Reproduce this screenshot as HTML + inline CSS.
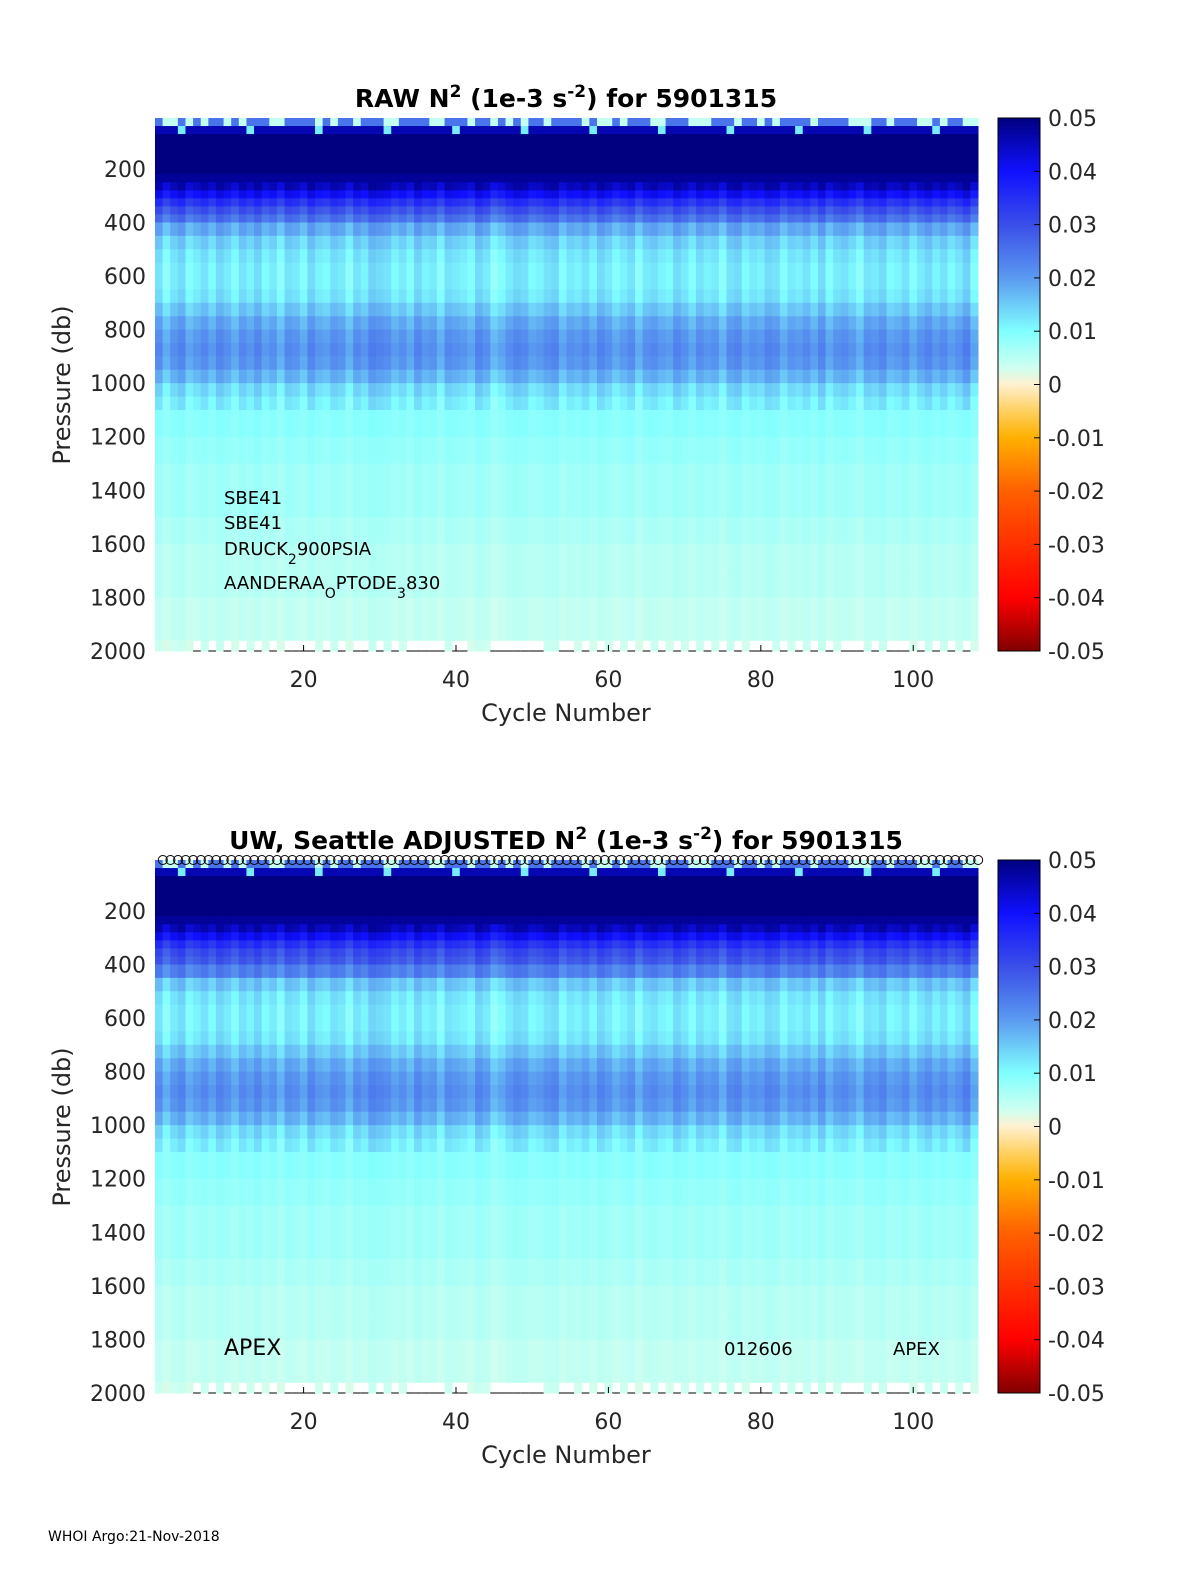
<!DOCTYPE html>
<html><head><meta charset="utf-8"><style>
body{margin:0;background:#fff;}
svg{display:block;font-family:"DejaVu Sans","Liberation Sans",sans-serif;}
</style></head><body>
<svg id="fig" width="1200" height="1575" viewBox="0 0 1200 1575" xmlns="http://www.w3.org/2000/svg">
<defs>
<linearGradient id="cbg" x1="0" y1="0" x2="0" y2="1">
<stop offset="0" stop-color="#000080"/><stop offset="0.1" stop-color="#1010ff"/>
<stop offset="0.2" stop-color="#3a4ee8"/><stop offset="0.3" stop-color="#5a9af0"/>
<stop offset="0.4" stop-color="#80ffff"/><stop offset="0.47" stop-color="#d0fff0"/>
<stop offset="0.5" stop-color="#fff0d0"/><stop offset="0.55" stop-color="#ffd060"/>
<stop offset="0.6" stop-color="#ffb000"/><stop offset="0.7" stop-color="#ff6000"/>
<stop offset="0.8" stop-color="#ff3000"/><stop offset="0.9" stop-color="#ff0000"/>
<stop offset="1" stop-color="#800000"/></linearGradient>
</defs>
<g id="p1"></g>
<g id="p2" transform="translate(0,742)"></g>
<text x="48" y="1541" font-size="14">WHOI Argo:21-Nov-2018</text>
</svg>
<script>
const nCycles = 108;
const levelTops = [10,40,70,100,130,160,190,220,250,280,310,340,370,400,450,500,550,600,650,700,750,800,850,900,950,1000,1050,1100,1200,1300,1400,1500,1600,1700,1800,1900,1960];
const levelBottoms = [40,70,100,130,160,190,220,250,280,310,340,370,400,450,500,550,600,650,700,750,800,850,900,950,1000,1050,1100,1200,1300,1400,1500,1600,1700,1800,1900,1960,2000];
const rawValues = [0.025,0.046,0.05,0.05,0.05,0.05,0.05,0.048,0.045,0.04,0.034,0.029,0.025,0.018,0.014,0.012,0.011,0.011,0.012,0.015,0.018,0.02,0.021,0.02,0.017,0.013,0.011,0.009,0.008,0.007,0.007,0.006,0.005,0.005,0.004,0.004,0.003];
const adjValues = [0.025,0.046,0.05,0.05,0.05,0.05,0.05,0.048,0.045,0.04,0.034,0.03,0.028,0.023,0.015,0.012,0.011,0.011,0.012,0.015,0.018,0.02,0.021,0.02,0.017,0.013,0.011,0.009,0.008,0.007,0.007,0.006,0.005,0.005,0.004,0.004,0.003];
const cycleOffsets = [0.002,-0.003,0.001,0.003,-0.002,0,0.002,-0.001,0.003,0.001,-0.002,0.002,0,0.003,-0.001,0.001,-0.003,0.002,0.001,-0.002,0.003,0,-0.001,0.002,0.001,-0.003,0.002,0,0.004,0.003,0.002,-0.001,0.001,-0.002,0.003,0,0.001,-0.003,0.002,0.001,0,-0.002,0.003,0.001,-0.004,-0.002,0.001,0.003,0.002,-0.001,0,0.002,0.003,-0.002,0.001,0,0.002,-0.001,0.003,0.001,-0.002,0,0.002,-0.003,0.001,0.002,0,-0.001,0.003,0.001,-0.002,0.002,0,0.001,-0.003,0.002,0.003,-0.001,0.001,0,0.003,0.002,-0.002,0.001,0,0.002,-0.001,0.003,-0.002,0.001,0.002,0,-0.003,0.002,0.001,0.003,-0.001,0,0.002,-0.002,0.001,0.003,0,0.002,-0.001,0.001,0.004,-0.002];
const missingBottom = [6,8,10,12,14,16,18,19,20,21,23,25,27,28,30,32,34,35,36,37,38,40,41,45,46,47,48,49,50,51,54,55,57,59,61,63,65,67,69,71,73,75,77,79,80,81,83,85,87,89,91,92,93,95,97,98,99,101,103,105,107];
const xTicks = [20,40,60,80,100];
const yTicks = [200,400,600,800,1000,1200,1400,1600,1800,2000];
const cbTicks = ["0.05","0.04","0.03","0.02","0.01","0","-0.01","-0.02","-0.03","-0.04","-0.05"];

const X0=155,X1=978,Y0=118,Y1=651;
const xs = c => X0 + (c-0.5)*(X1-X0)/108;
const ys = p => Y0 + (p-10)*(Y1-Y0)/1990;
const stops=[[0.05,[0,0,128]],[0.04,[16,16,255]],[0.03,[58,78,232]],[0.02,[90,154,240]],[0.01,[128,255,255]],[0.003,[208,255,240]],[0,[255,240,208]],[-0.005,[255,208,96]],[-0.01,[255,176,0]],[-0.02,[255,96,0]],[-0.03,[255,48,0]],[-0.04,[255,0,0]],[-0.05,[128,0,0]]];
function col(v){v=Math.max(-0.05,Math.min(0.05,v));
 for(let i=0;i<stops.length-1;i++){const a=stops[i],b=stops[i+1];
  if(v<=a[0]&&v>=b[0]){const t=(a[0]-v)/(a[0]-b[0]);
   const c=a[1].map((x,k)=>Math.round(x+(b[1][k]-x)*t));return `rgb(${c})`;}}
 return 'rgb(128,0,0)';}
const NS="http://www.w3.org/2000/svg";
function mk(tag,attrs,parent){const e=document.createElementNS(NS,tag);for(const k in attrs)e.setAttribute(k,attrs[k]);parent.appendChild(e);return e;}
function txt(parent,x,y,s,size,anchor,weight){const t=mk('text',{x:x,y:y,'font-size':size,'text-anchor':anchor||'start','font-weight':weight||'normal',fill:'#262626'},parent);t.innerHTML=s;return t;}

function panel(g,values,title,adjusted){
 for(let c=1;c<=nCycles;c++){
  const off=cycleOffsets[c-1];
  for(let i=0;i<levelTops.length;i++){
   let v=values[i];
   if(levelTops[i]>=250&&levelTops[i]<1100)v+=off*0.8;
   else if(levelTops[i]>=1100)v+=off*0.2;
   if(i===0&&(c%5===2||c%7===3||c%11===5))v=0.004;
   if(i===1&&(c%9===4))v=0.012;
   if(i===levelTops.length-1&&missingBottom.includes(c))continue;
   const r=mk('rect',{x:xs(c-0.5),y:ys(levelTops[i]),width:xs(c+0.5)-xs(c-0.5)+0.5,height:ys(levelBottoms[i])-ys(levelTops[i])+0.5,fill:col(v)},g);
   
   
  }
 }
 missingBottom.forEach(c=>{const l=mk('line',{x1:xs(c-0.5),x2:xs(c+0.5),y1:Y1,y2:Y1,stroke:'#000','stroke-width':1},g);
  });
 xTicks.forEach(t=>{const l=mk('line',{x1:xs(t),x2:xs(t),y1:Y1,y2:Y1-6,stroke:'#000'},g);
  
  const tt=txt(g,xs(t),Y1+36,t,22,'middle');});
 yTicks.forEach(t=>{const tt=txt(g,146,ys(t)+8,t,22,'end');});
 const xl=txt(g,566,Y1+70,'Cycle Number',24,'middle');
 const yl=txt(g,0,0,'Pressure (db)',24,'middle');yl.setAttribute('transform','translate(70,385) rotate(-90)');
 const ti=txt(g,566,Y0-11,title,25,'middle','bold');ti.setAttribute('fill','#000');
 const cb=mk('rect',{x:998,y:Y0,width:42,height:Y1-Y0,fill:'url(#cbg)',stroke:'#000','stroke-width':1},g);
 
 cbTicks.forEach((s,i)=>{const y=Y0+i*(Y1-Y0)/10;
  const l=mk('line',{x1:1034,x2:1040,y1:y,y2:y,stroke:'#000'},g);
  const tt=txt(g,1048,y+8,s,22);});
 if(adjusted){
  for(let c=1;c<=nCycles;c++){const ci=mk('circle',{cx:xs(c)+4,cy:Y0,r:4.5,fill:'none',stroke:'#000','stroke-width':1},g);
   }
  [[224,Y1-45,'APEX',22],[724,Y1-45,'012606',18],[893,Y1-45,'APEX',18]].forEach(a=>{const tt=txt(g,a[0],a[1]+7,a[2],a[3]);tt.setAttribute('fill','#000');});
 } else {
  [[224,504,'SBE41'],[224,529,'SBE41'],[224,555,'DRUCK<tspan font-size="14" dy="9">2</tspan><tspan dy="-9">900PSIA</tspan>'],[224,589,'AANDERAA<tspan font-size="14" dy="9">O</tspan><tspan dy="-9">PTODE</tspan><tspan font-size="14" dy="9">3</tspan><tspan dy="-9">830</tspan>']].forEach(a=>{const tt=txt(g,a[0],a[1],a[2],18);tt.setAttribute('fill','#000');});
 }
}
panel(document.getElementById('p1'),rawValues,'RAW N<tspan font-size="17" dy="-10">2</tspan><tspan dy="10"> (1e-3 s</tspan><tspan font-size="17" dy="-10">-2</tspan><tspan dy="10">) for 5901315</tspan>',false);
panel(document.getElementById('p2'),adjValues,'UW, Seattle  ADJUSTED N<tspan font-size="17" dy="-10">2</tspan><tspan dy="10"> (1e-3 s</tspan><tspan font-size="17" dy="-10">-2</tspan><tspan dy="10">) for 5901315</tspan>',true);
</script>
</body></html>
